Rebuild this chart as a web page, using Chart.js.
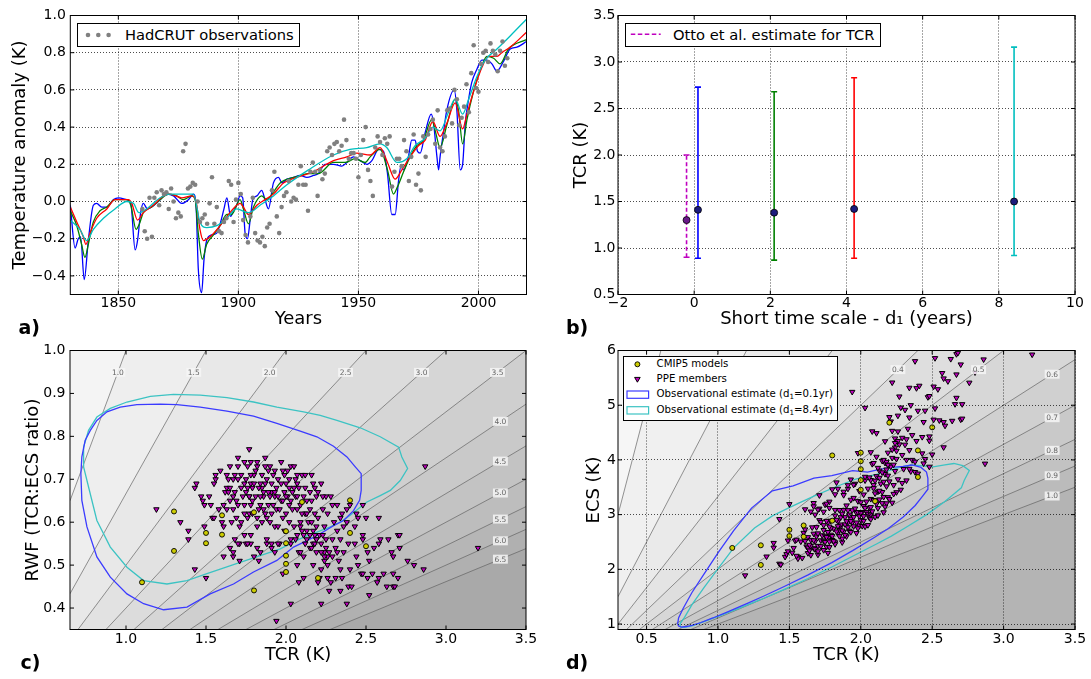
<!DOCTYPE html>
<html>
<head>
<meta charset="utf-8">
<script src="https://cdn.jsdelivr.net/npm/chart.js@4.4.1/dist/chart.umd.min.js"></script>
<style>
  html, body { margin: 0; padding: 0; background: #fff; }
  body { position: relative; width: 1091px; height: 679px; overflow: hidden; font-family: 'DejaVu Sans', sans-serif; color: #000; }
  canvas { position: absolute; }
  .tag { position: absolute; font-weight: bold; font-size: 19px; line-height: 1; }
  .legend { position: absolute; background: #fff; border: 1px solid #000; box-sizing: border-box; }
  .legend svg { position: absolute; left: 0; top: 0; }
  .legend span { position: absolute; white-space: nowrap; line-height: 1; }
  .legend sub { font-size: 0.7em; vertical-align: -0.25em; line-height: 0; }
</style>
</head>
<body>
<canvas id="chartA" width="545" height="340" style="left:0;top:0"></canvas>
<canvas id="chartB" width="546" height="340" style="left:545px;top:0"></canvas>
<canvas id="chartC" width="545" height="344" style="left:0;top:335px"></canvas>
<canvas id="chartD" width="546" height="344" style="left:545px;top:335px"></canvas>

<div class="legend" style="left:77px;top:23px;width:223px;height:24px">
  <svg width="221" height="22">
    <circle cx="10" cy="11" r="2.3" fill="#808080"/>
    <circle cx="20.3" cy="11" r="2.3" fill="#808080"/>
    <circle cx="30.6" cy="11" r="2.3" fill="#808080"/>
  </svg>
  <span style="left:47px;top:3.9px;font-size:14.7px">HadCRUT observations</span>
</div>

<div class="legend" style="left:625px;top:23px;width:256px;height:24px">
  <svg width="254" height="22">
    <line x1="4.8" y1="10.3" x2="34.7" y2="10.3" stroke="#bf00bf" stroke-width="1.5" stroke-dasharray="4.5,2.5"/>
  </svg>
  <span style="left:47px;top:3.9px;font-size:14.7px">Otto et al. estimate for TCR</span>
</div>

<div class="legend" style="left:623px;top:356px;width:215px;height:65px">
  <svg width="213" height="63">
    <circle cx="13.4" cy="7.3" r="2.5" fill="#cccc00" stroke="#000" stroke-width="0.9"/>
    <polygon points="10.6,20.4 16.2,20.4 13.4,25.2" fill="#c000c0" stroke="#000" stroke-width="1"/>
    <rect x="3" y="34" width="21.6" height="7.3" fill="none" stroke="#3b3bff" stroke-width="1.2"/>
    <rect x="3" y="49.7" width="21.6" height="7.3" fill="none" stroke="#3cc3c3" stroke-width="1.2"/>
  </svg>
  <span style="left:32.6px;top:2.4px;font-size:10.2px">CMIP5 models</span>
  <span style="left:32.6px;top:17.1px;font-size:10.2px">PPE members</span>
  <span style="left:32.6px;top:32.4px;font-size:10.2px">Observational estimate (d<sub>1</sub>=0.1yr)</span>
  <span style="left:32.6px;top:48.4px;font-size:10.2px">Observational estimate (d<sub>1</sub>=8.4yr)</span>
</div>

<div class="tag" style="left:18.5px;top:318.4px">a)</div>
<div class="tag" style="left:566px;top:318.4px">b)</div>
<div class="tag" style="left:20.5px;top:653.4px">c)</div>
<div class="tag" style="left:566px;top:653.4px">d)</div>

<script>
// ---------- panel a: observations and fitted model, one line per short time scale d1 ----------
const obsFirstYear = 1860;
const obsAnomaly = [
  -0.04,-0.16,-0.20,0.02,-0.19,0.02,0.05,-0.02,0.06,0.04,
  0.05,-0.04,0.07,0.00,-0.09,-0.06,-0.08,0.27,0.31,0.07,
  0.08,0.10,0.09,0.00,-0.11,-0.09,-0.07,-0.12,-0.01,0.13,
  -0.12,-0.03,-0.16,-0.17,-0.11,-0.09,0.11,0.09,-0.11,0.01,
  0.10,0.04,-0.10,-0.18,-0.22,-0.08,0.02,-0.17,-0.21,-0.22,
  -0.19,-0.24,-0.14,-0.12,0.06,0.16,-0.08,-0.17,-0.03,0.03,
  0.05,0.11,0.00,0.02,0.01,0.09,0.19,0.09,0.09,-0.05,
  0.16,0.21,0.16,0.03,0.17,0.12,0.15,0.27,0.29,0.25,
  0.31,0.32,0.27,0.30,0.44,0.33,0.23,0.26,0.26,0.23,
  0.13,0.25,0.33,0.40,0.17,0.11,0.03,0.29,0.35,0.32,
  0.25,0.34,0.31,0.35,0.08,0.16,0.23,0.23,0.19,0.33,
  0.27,0.11,0.24,0.36,0.09,0.15,0.06,0.35,0.24,0.36,
  0.39,0.44,0.31,0.49,0.29,0.27,0.35,0.49,0.50,0.42,
  0.60,0.55,0.41,0.45,0.51,0.63,0.48,0.69,0.84,0.61,
  0.59,0.74,0.80,0.81,0.75,0.85,0.81,0.79,0.70,0.81,
  0.86,0.73,0.77
];

const fitD01Years = [1830,1832,1833.3,1834.3,1835.8,1837.5,1839.6,1841,1843.1,1845.2,1848,1850,1853.5,1855.2,1857,1858,1859.3,1860.4,1862.1,1863.9,1867.4,1870.2,1873,1876.4,1879.2,1881.3,1882.4,1883.3,1884.7,1885.7,1886.8,1888.9,1891,1892.4,1894,1895.2,1896.8,1898,1899.3,1900.7,1901.8,1902.8,1903.8,1904.9,1906,1907.7,1909.7,1911.1,1912.5,1914.6,1916.7,1918.1,1920.2,1923,1925.7,1928.5,1931.3,1933.3,1936.1,1939.6,1943.1,1945.2,1947.9,1950.7,1953.5,1955.6,1958.4,1960.4,1962.1,1963.9,1965.3,1966.7,1967.7,1968.8,1970.8,1972.2,1973.6,1974.6,1975.7,1977.8,1980.3,1981.3,1982.7,1983.4,1984,1985.4,1986.8,1989.9,1991,1992.4,1993.4,1994.5,1995.9,1997.2,1999.3,2001.4,2003.5,2005.6,2007.7,2009,2010.7,2013.2,2016,2020];
const fitD01Anom = [-0.02,-0.25,-0.20,-0.19,-0.42,-0.21,-0.02,-0.01,-0.03,-0.03,0.01,0.02,0.01,-0.01,-0.26,-0.21,-0.06,-0.01,-0.04,-0.03,0.01,0.04,0.03,-0.01,0.01,0.04,-0.03,-0.36,-0.49,-0.31,-0.21,-0.18,-0.17,-0.12,-0.04,0.02,-0.08,-0.05,-0.02,0.03,0.02,-0.17,-0.20,-0.10,0.01,0.03,0.06,0.01,-0.04,0.10,0.13,0.10,0.12,0.13,0.14,0.13,0.14,0.15,0.20,0.20,0.19,0.21,0.24,0.22,0.20,0.22,0.28,0.27,0.15,-0.07,-0.07,0.11,0.19,0.17,0.24,0.33,0.33,0.27,0.26,0.37,0.47,0.42,0.24,0.17,0.24,0.37,0.49,0.60,0.49,0.17,0.20,0.42,0.55,0.64,0.71,0.76,0.76,0.74,0.70,0.72,0.76,0.82,0.83,0.86];

const fitD21Years = [1830,1832.7,1834.7,1836.1,1837.5,1839.6,1842.4,1845.2,1848.6,1853.5,1855.2,1857.4,1858.8,1860.4,1863.9,1867.4,1870.9,1874.3,1877.1,1880.6,1882,1883.3,1885,1886.8,1889.6,1892.4,1895.2,1897.2,1900.7,1902.1,1904.2,1906.3,1909.7,1911.8,1914.6,1917.4,1923,1926,1929,1933.3,1939.6,1944.5,1948.6,1952.8,1954.9,1959,1962.1,1964.6,1966.3,1968.8,1971.5,1974.3,1977.1,1980.5,1982,1984,1986.8,1990.3,1991.7,1993.4,1995.2,1997.9,2001.4,2003.5,2006.3,2009,2012.5,2020];
const fitD21Anom = [-0.05,-0.13,-0.23,-0.30,-0.23,-0.11,-0.05,-0.03,0.01,0.01,-0.02,-0.15,-0.12,-0.06,-0.03,0.01,0.04,0.03,0.01,0.03,0.01,-0.17,-0.31,-0.23,-0.18,-0.13,-0.07,-0.07,0.01,-0.04,-0.12,-0.03,0.03,0.01,0.05,0.10,0.13,0.14,0.15,0.15,0.21,0.21,0.23,0.21,0.24,0.28,0.17,0.04,0.08,0.16,0.24,0.30,0.33,0.44,0.38,0.29,0.41,0.55,0.49,0.31,0.44,0.59,0.73,0.78,0.77,0.74,0.82,0.87];

const fitD42Years = [1830,1832.7,1835.4,1836.5,1838.2,1841,1845.2,1848.6,1854.2,1855.6,1858,1860.4,1864.6,1868.8,1871.5,1876.4,1880.6,1882.4,1884,1885.4,1888.2,1892.4,1896.5,1900.7,1902.1,1904.2,1907.7,1911.1,1914.6,1918.8,1924.3,1931.3,1939.6,1945.2,1949.3,1954.9,1959,1962.1,1965.3,1968.1,1971.5,1975,1977.8,1981,1984,1986.8,1990.3,1993.4,1995.2,1997.9,2001.4,2004.2,2007.7,2009.7,2013.2,2020];
const fitD42Anom = [-0.03,-0.11,-0.19,-0.23,-0.17,-0.09,-0.04,0.01,0.01,-0.01,-0.10,-0.06,-0.02,0.03,0.04,0.02,0.03,0.00,-0.15,-0.21,-0.19,-0.13,-0.06,-0.01,-0.03,-0.07,-0.02,0.01,0.04,0.10,0.13,0.16,0.22,0.24,0.26,0.25,0.29,0.21,0.12,0.17,0.24,0.30,0.33,0.43,0.35,0.42,0.53,0.39,0.47,0.59,0.72,0.78,0.78,0.80,0.83,0.91];

const fitD84Years = [1830,1834,1836.8,1839.6,1843.8,1848.6,1853.5,1856.3,1858.6,1861.8,1867.4,1871.5,1877.1,1881.3,1884,1886.8,1891,1895.2,1899.3,1904.2,1909,1914.6,1920.2,1929.2,1939.6,1946.5,1953.5,1959,1961.8,1966,1970.1,1973.6,1977.8,1981,1984,1987.5,1990.3,1993.4,1995.9,1999.3,2002.8,2007.7,2013.2,2020];
const fitD84Anom = [-0.10,-0.15,-0.21,-0.15,-0.09,-0.04,0.00,-0.01,-0.06,-0.04,0.02,0.04,0.04,0.04,-0.11,-0.14,-0.13,-0.09,-0.04,-0.06,-0.02,0.03,0.09,0.17,0.25,0.28,0.29,0.31,0.29,0.21,0.23,0.30,0.34,0.40,0.38,0.48,0.55,0.47,0.55,0.67,0.76,0.82,0.89,0.98];

const yearTicks = [1850, 1900, 1950, 2000];
const anomalyTicks = [-0.4, -0.2, 0.0, 0.2, 0.4, 0.6, 0.8, 1.0];

// ---------- panel b: TCR estimate per short time scale ----------
const d1Values = [-0.2, 0.1, 2.1, 4.2, 8.4];
const tcrBest  = [1.30, 1.41, 1.38, 1.42, 1.50];
const tcrLow   = [0.90, 0.89, 0.87, 0.89, 0.92];
const tcrHigh  = [2.00, 2.73, 2.68, 2.83, 3.16];
const d1Ticks = [-2, 0, 2, 4, 6, 8, 10];
const tcrTicksB = [0.5, 1.0, 1.5, 2.0, 2.5, 3.0, 3.5];

// ---------- panels c, d: members as [TCR, RWF]; ECS = TCR / RWF ----------
const cmip5TcrRwf = [
  [1.10,0.460],[1.30,0.625],[1.30,0.533],[1.50,0.575],[1.50,0.551],[1.60,0.616],[1.60,0.571],
  [1.80,0.441],[1.80,0.623],[2.00,0.579],[2.00,0.551],[2.00,0.522],[2.00,0.503],[2.00,0.484],
  [2.10,0.647],[2.40,0.651],[2.40,0.575],[2.50,0.544],[2.20,0.470]
];
const ppeTcrRwf = [
  [1.19,0.63],[1.34,0.60],[1.39,0.58],[1.39,0.56],[1.43,0.68],[1.44,0.69],[1.43,0.49],[1.50,0.47],[1.61,0.52],[1.71,0.51],
  [1.83,0.51],[1.84,0.53],[1.67,0.52],[1.71,0.55],[1.75,0.55],[1.78,0.55],[1.68,0.56],[1.77,0.77],[1.87,0.75],
  [1.47,0.66],[1.48,0.65],[1.49,0.64],[1.52,0.66],[1.53,0.64],[1.49,0.59],[1.54,0.61],[1.55,0.61],[1.58,0.63],[1.56,0.70],
  [1.56,0.71],[1.55,0.69],[1.59,0.72],[1.60,0.60],[1.61,0.59],[1.62,0.67],[1.63,0.68],[1.61,0.64],[1.63,0.63],[1.65,0.65],
  [1.66,0.60],[1.67,0.63],[1.67,0.70],[1.68,0.71],[1.69,0.61],[1.70,0.75],[1.70,0.73],[1.71,0.59],[1.72,0.68],[1.73,0.66],
  [1.74,0.69],[1.75,0.67],[1.76,0.73],[1.74,0.57],[1.76,0.55],[1.77,0.62],[1.77,0.66],[1.78,0.69],[1.79,0.68],[1.80,0.71],
  [1.81,0.66],[1.82,0.59],[1.82,0.73],[1.82,0.74],[1.84,0.64],[1.84,0.69],[1.85,0.68],[1.86,0.67],[1.86,0.66],[1.87,0.73],
  [1.88,0.70],[1.88,0.61],[1.89,0.64],[1.90,0.73],[1.91,0.67],[1.91,0.69],[1.92,0.71],[1.93,0.66],[1.94,0.63],[1.94,0.68],
  [1.95,0.70],[1.97,0.74],[1.97,0.65],[1.98,0.61],[1.99,0.71],[1.99,0.67],[2.00,0.69],[2.01,0.66],[2.01,0.72],[2.02,0.64],
  [2.02,0.70],[2.03,0.73],[2.04,0.67],[2.05,0.73],[2.05,0.68],[2.06,0.66],[2.07,0.63],[2.07,0.69],[2.08,0.68],[2.09,0.59],
  [2.09,0.60],[2.10,0.71],[2.11,0.66],[2.11,0.57],[2.12,0.62],[2.12,0.68],[2.13,0.65],[2.13,0.56],[2.14,0.60],[2.15,0.67],
  [2.15,0.63],[2.16,0.71],[2.16,0.65],[2.17,0.58],[2.17,0.55],[2.18,0.68],[2.18,0.62],[2.19,0.66],[2.20,0.61],[2.22,0.69],
  [2.22,0.55],[2.23,0.63],[2.24,0.59],[2.25,0.66],[2.25,0.56],[2.26,0.62],[2.27,0.53],
  [1.65,0.54],[1.67,0.53],[1.70,0.55],[1.78,0.57],[1.80,0.52],[1.82,0.54],[1.88,0.55],[1.91,0.55],[1.93,0.53],[1.96,0.55],
  [2.03,0.56],[2.07,0.57],[2.08,0.53],[2.11,0.52],[2.15,0.54],[2.18,0.55],[2.19,0.53],[2.24,0.51],[2.26,0.52],
  [1.70,0.70],[1.72,0.71],[1.75,0.70],[1.76,0.68],[1.77,0.66],[1.79,0.65],[1.80,0.69],[1.83,0.68],[1.84,0.66],[1.86,0.63],
  [1.87,0.69],[1.89,0.67],[1.90,0.66],[1.91,0.62],[1.92,0.64],[1.93,0.67],[1.95,0.66],[1.96,0.63],[1.97,0.69],[1.98,0.65],
  [2.00,0.62],[2.00,0.66],[2.02,0.68],[2.03,0.65],[2.04,0.63],[2.06,0.70],[2.07,0.66],[2.09,0.64],[2.10,0.62],[2.13,0.62],
  [2.16,0.60],[2.19,0.59],[2.21,0.57],[2.23,0.57],[1.68,0.67],[1.69,0.65],[1.67,0.66],[1.65,0.68],[1.64,0.67],[1.70,0.64],
  [1.74,0.64],[1.76,0.61],[1.79,0.62],[1.82,0.61],[1.85,0.60],[1.87,0.62],[1.83,0.63],[1.78,0.64],[1.74,0.62],[1.72,0.60],
  [1.90,0.60],[1.93,0.59],[1.95,0.59],[1.99,0.58],[2.02,0.60],[2.05,0.59],[2.10,0.58],[2.13,0.58],[2.15,0.57],[2.18,0.57],
  [2.19,0.56],[1.78,0.71],[1.81,0.72],[1.85,0.71],[1.89,0.72],[1.93,0.72],[1.98,0.72],[2.07,0.71],[2.12,0.71],[2.17,0.69],
  [2.20,0.67],[2.23,0.66],[1.78,0.74],[1.74,0.74],[1.65,0.73],[1.63,0.71],[1.64,0.70],
  [2.28,0.66],[2.29,0.64],[2.32,0.64],[2.35,0.62],[2.38,0.63],[2.40,0.64],[2.44,0.62],[2.48,0.64],[2.50,0.61],[2.45,0.61],
  [2.58,0.61],[2.34,0.61],[2.30,0.60],[2.36,0.59],[2.38,0.60],[2.43,0.59],[2.48,0.57],[2.32,0.58],[2.29,0.56],[2.34,0.56],
  [2.39,0.55],[2.43,0.55],[2.48,0.56],[2.51,0.53],[2.55,0.54],[2.58,0.55],[2.59,0.56],[2.64,0.56],[2.70,0.57],[2.71,0.57],
  [2.71,0.54],[2.66,0.53],[2.67,0.52],[2.76,0.51],[2.80,0.50],[2.86,0.49],
  [2.31,0.54],[2.32,0.53],[2.36,0.53],[2.29,0.52],[2.33,0.51],[2.24,0.53],[2.24,0.52],[2.44,0.52],[2.45,0.50],[2.52,0.51],
  [2.47,0.48],[2.48,0.48],[2.51,0.47],[2.54,0.48],[2.57,0.46],[2.58,0.47],[2.61,0.48],[2.67,0.48],[2.70,0.47],[2.63,0.45],
  [2.67,0.45],[2.68,0.45],[2.39,0.45],[2.41,0.45],[2.34,0.44],[2.27,0.44],[2.52,0.43],[2.38,0.41],[2.22,0.41],[2.03,0.41],
  [1.94,0.37],[2.11,0.47],[2.08,0.46],[2.21,0.47],[2.20,0.46],[2.28,0.46],[2.31,0.47],[2.35,0.47],[2.26,0.50],[2.26,0.47],
  [2.34,0.49],[2.40,0.49],[2.17,0.50],[2.22,0.49],[2.07,0.50],[1.98,0.48],
  [1.88,0.56],[1.91,0.54],[1.95,0.55],[2.03,0.55],[2.06,0.56],[2.09,0.53],[2.12,0.55],[2.16,0.54],[2.19,0.56],[2.22,0.53],
  [2.25,0.54],[2.87,0.73],[3.20,0.54]
];

// observational likelihood contours, traced in the TCR-RWF plane
const obsD01Contour = [
  [0.745,0.791],[0.777,0.814],[0.818,0.837],[0.881,0.857],[0.964,0.868],[1.068,0.874],[1.214,0.875],[1.318,0.874],
  [1.464,0.868],[1.631,0.859],[1.797,0.847],[1.943,0.830],[2.089,0.812],[2.193,0.799],[2.297,0.777],[2.381,0.752],
  [2.433,0.729],[2.470,0.713],[2.470,0.674],[2.460,0.651],[2.422,0.627],[2.360,0.604],[2.297,0.592],[2.214,0.573],
  [2.131,0.557],[2.047,0.542],[1.943,0.511],[1.797,0.484],[1.672,0.456],[1.526,0.433],[1.381,0.402],[1.235,0.396],
  [1.110,0.410],[1.006,0.433],[0.902,0.472],[0.818,0.519],[0.756,0.589],[0.724,0.651],[0.718,0.713],[0.724,0.752],
  [0.745,0.791]
];
const obsD84Contour = [
  [0.735,0.775],[0.766,0.814],[0.818,0.845],[0.902,0.865],[1.006,0.880],[1.152,0.893],[1.297,0.898],[1.464,0.896],
  [1.631,0.890],[1.797,0.880],[1.943,0.868],[2.110,0.857],[2.214,0.849],[2.318,0.837],[2.464,0.820],[2.589,0.799],
  [2.704,0.775],[2.724,0.752],[2.760,0.725],[2.714,0.697],[2.652,0.674],[2.589,0.662],[2.506,0.647],[2.464,0.635],
  [2.402,0.616],[2.339,0.600],[2.277,0.589],[2.193,0.577],[2.110,0.565],[1.964,0.538],[1.839,0.522],[1.672,0.501],
  [1.506,0.480],[1.381,0.464],[1.256,0.456],[1.110,0.464],[1.006,0.495],[0.902,0.542],[0.818,0.604],[0.766,0.682],
  [0.735,0.729],[0.735,0.775]
];

const ecsLevels = [1.0, 1.5, 2.0, 2.5, 3.0, 3.5, 4.0, 4.5, 5.0, 5.5, 6.0, 6.5];
const rwfLevels = [0.1, 0.2, 0.3, 0.4, 0.5, 0.6, 0.7, 0.8, 0.9, 1.0];
const tcrTicksC = [1.0, 1.5, 2.0, 2.5, 3.0, 3.5];
const rwfTicks = [0.4, 0.5, 0.6, 0.7, 0.8, 0.9, 1.0];
const tcrTicksD = [0.5, 1.0, 1.5, 2.0, 2.5, 3.0, 3.5];
const ecsTicks = [1, 2, 3, 4, 5, 6];

// ---------- styles ----------
const ecsShades = ['#f4f4f4','#eeeeee','#e8e8e8','#e2e2e2','#dcdcdc','#d6d6d6','#cfcfcf','#c9c9c9','#c3c3c3','#bdbdbd','#b6b6b6','#b0b0b0'];
const ecsBase = '#a9a9a9';
const rwfShades = ['#f6f6f6','#f0f0f0','#eaeaea','#e4e4e4','#dedede','#d7d7d7','#d0d0d0','#c9c9c9','#c2c2c2','#bbbbbb'];
const rwfBase = '#b4b4b4';
const estColors = ['#bf00bf', '#0000ff', '#008000', '#ff0000', '#00bfbf'];
const estMarker = ['#6a1a8a', '#1c1c7c', '#1c1c7c', '#1c1c7c', '#1c1c7c'];
const levelLine = 'rgba(95,95,95,0.75)';

Chart.defaults.font.family = "'DejaVu Sans', sans-serif";
Chart.defaults.color = '#000';
Chart.defaults.animation = false;
Chart.defaults.events = [];
Chart.defaults.plugins.legend.display = false;
Chart.defaults.plugins.tooltip.enabled = false;

const fmt = (v, d) => v.toFixed(d).replace('-', '\u2212');

function makeScale(o) {
  return {
    type: 'linear', min: o.min, max: o.max,
    afterBuildTicks: s => { s.ticks = o.ticks.map(v => ({ value: v })); },
    afterFit: s => { if (o.isX) s.height = o.size; else s.width = o.size; },
    ticks: { font: { size: 14 }, color: '#000', padding: o.pad, maxRotation: 0, autoSkip: false,
             callback: v => fmt(v, o.digits) },
    grid: { display: o.grid, drawTicks: false, color: '#000', lineWidth: 0.7, z: o.gridTop ? 1 : 0 },
    border: { display: false, dash: [1, 2] },
    title: { display: true, text: o.title, color: '#000', font: { size: 18 },
             padding: o.isX ? { top: 0, bottom: o.titlePad } : { top: o.titlePad, bottom: 0 } }
  };
}

// frame and inward tick marks on all four sides
const framePlugin = {
  id: 'frame',
  afterDraw(chart) {
    const { ctx, chartArea: a } = chart;
    const x = chart.scales.x, y = chart.scales.y;
    ctx.save();
    ctx.strokeStyle = '#000';
    ctx.lineWidth = 1;
    ctx.beginPath();
    x.ticks.forEach(t => {
      const p = x.getPixelForValue(t.value);
      ctx.moveTo(p, a.bottom); ctx.lineTo(p, a.bottom - 4);
      ctx.moveTo(p, a.top); ctx.lineTo(p, a.top + 4);
    });
    y.ticks.forEach(t => {
      const p = y.getPixelForValue(t.value);
      ctx.moveTo(a.left, p); ctx.lineTo(a.left + 4, p);
      ctx.moveTo(a.right, p); ctx.lineTo(a.right - 4, p);
    });
    ctx.stroke();
    ctx.strokeRect(a.left, a.top, a.right - a.left, a.bottom - a.top);
    ctx.restore();
  }
};

function basePlugin(color) {
  return {
    id: 'baseShade',
    beforeDatasetsDraw(chart) {
      const { ctx, chartArea: a } = chart;
      ctx.save();
      ctx.fillStyle = color;
      ctx.fillRect(a.left, a.top, a.right - a.left, a.bottom - a.top);
      ctx.restore();
    }
  };
}

function levelLabelPlugin(items) {
  return {
    id: 'levelLabels',
    afterDatasetsDraw(chart) {
      const { ctx } = chart;
      const x = chart.scales.x, y = chart.scales.y;
      ctx.save();
      ctx.font = "7.5px 'DejaVu Sans'";
      ctx.textAlign = 'center';
      ctx.textBaseline = 'middle';
      items.forEach(it => {
        const px = x.getPixelForValue(it.x), py = y.getPixelForValue(it.y);
        const w = ctx.measureText(it.text).width + 3;
        ctx.fillStyle = 'rgba(246,246,246,0.85)';
        ctx.fillRect(px - w / 2, py - 4.5, w, 9);
        ctx.fillStyle = '#666';
        ctx.fillText(it.text, px, py + 0.5);
      });
      ctx.restore();
    }
  };
}

function fitLine(xs, ys, color, order) {
  return {
    data: xs.map((x, i) => ({ x, y: ys[i] })),
    showLine: true, pointRadius: 0, borderColor: color, borderWidth: 1.3,
    cubicInterpolationMode: 'monotone', fill: false, order
  };
}

const ppeStyle = { pointStyle: 'triangle', rotation: 180, pointRadius: 3.1,
  pointBackgroundColor: '#c000c0', pointBorderColor: '#000', pointBorderWidth: 1, order: 2 };
const cmipStyle = { pointRadius: 2.5, pointBackgroundColor: '#cccc00', pointBorderColor: '#000',
  pointBorderWidth: 0.9, order: 1 };

// ---------- chart a ----------
new Chart(document.getElementById('chartA'), {
  type: 'scatter',
  data: {
    datasets: [
      { data: obsAnomaly.map((v, i) => ({ x: obsFirstYear + i, y: v })),
        pointRadius: 2.3, pointBackgroundColor: '#808080', pointBorderWidth: 0, order: 0 },
      fitLine(fitD84Years, fitD84Anom, '#00bfbf', 1),
      fitLine(fitD42Years, fitD42Anom, '#ff0000', 2),
      fitLine(fitD21Years, fitD21Anom, '#008000', 3),
      fitLine(fitD01Years, fitD01Anom, '#0000ff', 4)
    ]
  },
  options: {
    responsive: false,
    layout: { padding: { left: 0, top: 15.5, right: 18.5, bottom: 0 } },
    scales: {
      x: makeScale({ isX: true, min: 1830, max: 2020, ticks: yearTicks, digits: 0, title: 'Years',
                     size: 45.5, pad: 0.5, titlePad: 10.2, grid: true }),
      y: makeScale({ min: -0.5, max: 1.0, ticks: anomalyTicks, digits: 1, title: 'Temperature anomaly (K)',
                     size: 70.3, pad: 4.5, titlePad: 10, grid: true })
    }
  },
  plugins: [framePlugin]
});

// ---------- chart b ----------
const barSets = d1Values.map((d, i) => ({
  data: [{ x: d, y: tcrLow[i] }, { x: d, y: tcrHigh[i] }],
  showLine: true, borderColor: estColors[i], borderWidth: 1.6, borderDash: i === 0 ? [4, 2.5] : [],
  pointStyle: 'line', pointRadius: 3, pointBorderColor: estColors[i], pointBorderWidth: 1.6, order: 2
}));
new Chart(document.getElementById('chartB'), {
  type: 'scatter',
  data: {
    datasets: [
      { data: d1Values.map((d, i) => ({ x: d, y: tcrBest[i] })), pointRadius: 3.5,
        pointBackgroundColor: estMarker, pointBorderColor: '#000', pointBorderWidth: 0.8, order: 0 },
      ...barSets
    ]
  },
  options: {
    responsive: false,
    layout: { padding: { left: 0, top: 15.5, right: 16, bottom: 0 } },
    scales: {
      x: makeScale({ isX: true, min: -2, max: 10, ticks: d1Ticks, digits: 0, title: 'Short time scale - d\u2081 (years)',
                     size: 45.5, pad: 0.5, titlePad: 10.2, grid: true }),
      y: makeScale({ min: 0.5, max: 3.5, ticks: tcrTicksB, digits: 1, title: 'TCR (K)',
                     size: 73, pad: 2.5, titlePad: 25.7, grid: true })
    }
  },
  plugins: [framePlugin]
});

// ---------- chart c ----------
const toPoint = ([t, r]) => ({ x: t, y: r });
const ecsSets = ecsLevels.map((e, i) => ({
  data: [{ x: 0.65, y: 0.65 / e }, { x: 3.5, y: 3.5 / e }],
  showLine: true, pointRadius: 0, borderColor: levelLine, borderWidth: 0.9,
  fill: 'end', backgroundColor: ecsShades[i], clip: 0, order: 10
}));
const ecsLabelItems = ecsLevels.map(e => e <= 3.5
  ? { x: 0.949 * e, y: 0.949, text: e.toFixed(1) }
  : { x: 3.34, y: 3.34 / e, text: e.toFixed(1) });

new Chart(document.getElementById('chartC'), {
  type: 'scatter',
  data: {
    datasets: [
      ...ecsSets,
      { data: obsD01Contour.map(toPoint), showLine: true, pointRadius: 0, borderColor: '#3b3bff', borderWidth: 1.3, clip: 0, order: 5 },
      { data: obsD84Contour.map(toPoint), showLine: true, pointRadius: 0, borderColor: '#3cc3c3', borderWidth: 1.3, clip: 0, order: 5 },
      { data: ppeTcrRwf.map(toPoint), ...ppeStyle },
      { data: cmip5TcrRwf.map(toPoint), ...cmipStyle }
    ]
  },
  options: {
    responsive: false,
    layout: { padding: { left: 0, top: 15.5, right: 19, bottom: 0 } },
    scales: {
      x: makeScale({ isX: true, min: 0.65, max: 3.5, ticks: tcrTicksC, digits: 1, title: 'TCR (K)',
                     size: 49.5, pad: 1, titlePad: 13.2, grid: false }),
      y: makeScale({ min: 0.35, max: 1.0, ticks: rwfTicks, digits: 1, title: 'RWF (TCR:ECS ratio)',
                     size: 70, pad: 4.5, titlePad: 22.2, grid: false })
    }
  },
  plugins: [basePlugin(ecsBase), levelLabelPlugin(ecsLabelItems), framePlugin]
});

// ---------- chart d ----------
const toEcsPoint = ([t, r]) => ({ x: t, y: t / r });
const rwfSets = rwfLevels.map((r, i) => ({
  data: [{ x: 0.3, y: 0.3 / r }, { x: 3.5, y: 3.5 / r }],
  showLine: true, pointRadius: 0, borderColor: levelLine, borderWidth: 0.9,
  fill: 'end', backgroundColor: rwfShades[i], clip: 0, order: 10
}));
const rwfLabelItems = rwfLevels.map(r => r <= 0.5
  ? { x: 5.65 * r, y: 5.65, text: r.toFixed(1) }
  : { x: 3.34, y: 3.34 / r, text: r.toFixed(1) });

new Chart(document.getElementById('chartD'), {
  type: 'scatter',
  data: {
    datasets: [
      ...rwfSets,
      { data: obsD01Contour.map(toEcsPoint), showLine: true, pointRadius: 0, borderColor: '#3b3bff', borderWidth: 1.3, clip: 0, order: 5 },
      { data: obsD84Contour.map(toEcsPoint), showLine: true, pointRadius: 0, borderColor: '#3cc3c3', borderWidth: 1.3, clip: 0, order: 5 },
      { data: ppeTcrRwf.map(toEcsPoint), ...ppeStyle },
      { data: cmip5TcrRwf.map(toEcsPoint), ...cmipStyle }
    ]
  },
  options: {
    responsive: false,
    layout: { padding: { left: 0, top: 15.5, right: 16, bottom: 0 } },
    scales: {
      x: makeScale({ isX: true, min: 0.3, max: 3.5, ticks: tcrTicksD, digits: 1, title: 'TCR (K)',
                     size: 49.5, pad: 1, titlePad: 13.2, grid: true, gridTop: true }),
      y: makeScale({ min: 0.9, max: 6, ticks: ecsTicks, digits: 0, title: 'ECS (K)',
                     size: 73, pad: 2, titlePad: 38.9, grid: true, gridTop: true })
    }
  },
  plugins: [basePlugin(rwfBase), levelLabelPlugin(rwfLabelItems), framePlugin]
});
</script>
</body>
</html>
